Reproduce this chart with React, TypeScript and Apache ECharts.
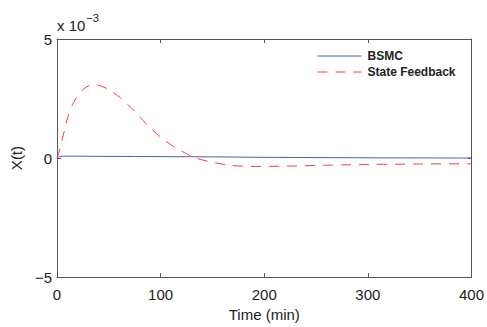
import React, { useEffect, useRef } from "react";
import * as echarts from "echarts";

const xTicks = [0, 100, 200, 300, 400];
const yTicks = [-5, 0, 5];
const seriesNames = ["BSMC", "State Feedback"];
const bsmcT = [0, 3, 10, 50, 100, 150, 200, 250, 300, 350, 400];
const bsmcV = [0, 0.07, 0.08, 0.07, 0.06, 0.05, 0.03, 0.02, 0.01, 0.005, 0];
const sfT = [0, 2, 6, 11, 16, 24, 30, 35, 40, 49, 62, 75, 88, 100, 113, 126, 134, 148, 167, 187, 220, 260, 300, 350, 400];
const sfV = [0, 0.25, 0.95, 1.8, 2.34, 2.83, 3.02, 3.1, 3.06, 2.9, 2.5, 1.96, 1.35, 0.88, 0.47, 0.16, 0.0, -0.16, -0.3, -0.35, -0.34, -0.3, -0.27, -0.25, -0.24];

const FONT = "Liberation Sans, Arial, Helvetica, sans-serif";
const BLUE = "#4a5cc0";
const RED = "#ff3b3b";
const DASH = [10, 8];

export default function App() {
  const ref = useRef<HTMLDivElement>(null);
  useEffect(() => {
    const chart = echarts.init(ref.current!, null, { renderer: "svg" });
    const axisLine = { show: true, onZero: false, lineStyle: { color: "#555", width: 1 } };
    const tick = { show: true, inside: true, length: 4, lineStyle: { color: "#555" } };
    const legendItems = seriesNames.map((name, i) => ({
      type: "group",
      left: 315,
      top: 50 + i * 16,
      children: [
        {
          type: "line",
          shape: { x1: 0, y1: 7, x2: 44, y2: 7 },
          style: { stroke: i === 0 ? BLUE : RED, lineWidth: 1, lineDash: i === 0 ? null : DASH },
        },
        {
          type: "text",
          x: 50,
          y: 7,
          style: { text: name, fontFamily: FONT, fontSize: 12, fontWeight: "bold", fill: "#222", verticalAlign: "middle" },
        },
      ],
    }));
    chart.setOption({
      animation: false,
      backgroundColor: "#fff",
      grid: { left: 57, right: 13, top: 39, bottom: 41, containLabel: false },
      xAxis: [
        {
          type: "value",
          min: 0,
          max: 400,
          interval: 100,
          position: "bottom",
          axisLine,
          axisTick: tick,
          splitLine: { show: false },
          axisLabel: { fontFamily: FONT, fontSize: 15, color: "#222", margin: 10, formatter: (v: number) => (xTicks.includes(v) ? String(v) : "") },
          name: "Time (min)",
          nameLocation: "middle",
          nameGap: 27,
          nameTextStyle: { fontFamily: FONT, fontSize: 15, color: "#222" },
        },
        {
          type: "value",
          min: 0,
          max: 400,
          interval: 100,
          position: "top",
          axisLine,
          axisTick: tick,
          splitLine: { show: false },
          axisLabel: { show: false },
        },
      ],
      yAxis: [
        {
          type: "value",
          min: -5,
          max: 5,
          interval: 5,
          position: "left",
          axisLine,
          axisTick: tick,
          splitLine: { show: false },
          axisLabel: {
            fontFamily: FONT,
            fontSize: 15,
            color: "#222",
            margin: 5,
            formatter: (v: number) => (yTicks.includes(v) ? (v < 0 ? "\u2212" + Math.abs(v) : String(v)) : ""),
          },
          name: "X(t)",
          nameLocation: "middle",
          nameGap: 29,
          nameRotate: 90,
          nameTextStyle: { fontFamily: FONT, fontSize: 15, color: "#222" },
        },
        {
          type: "value",
          min: -5,
          max: 5,
          interval: 5,
          position: "right",
          axisLine,
          axisTick: tick,
          splitLine: { show: false },
          axisLabel: { show: false },
        },
      ],
      graphic: [
        {
          type: "text",
          left: 57,
          top: 12,
          style: {
            text: "{a|x 10}{b|\u22123}",
            rich: {
              a: { fontFamily: FONT, fontSize: 15, fill: "#222", verticalAlign: "bottom", lineHeight: 20 },
              b: { fontFamily: FONT, fontSize: 11, fill: "#222", verticalAlign: "top", padding: [0, 0, 10, 1] },
            },
          },
        },
        ...legendItems,
      ],
      series: [
        {
          name: seriesNames[0],
          type: "line",
          smooth: 0.3,
          showSymbol: false,
          symbol: "none",
          color: BLUE,
          lineStyle: { color: BLUE, width: 1 },
          data: bsmcT.map((t, i) => [t, bsmcV[i]]),
        },
        {
          name: seriesNames[1],
          type: "line",
          smooth: 0.3,
          showSymbol: false,
          symbol: "none",
          color: RED,
          lineStyle: { color: RED, width: 1, type: DASH },
          data: sfT.map((t, i) => [t, sfV[i]]),
        },
      ],
    });
    return () => chart.dispose();
  }, []);
  return <div ref={ref} style={{ width: 487, height: 327, position: "absolute", left: 0, top: 0 }} />;
}
